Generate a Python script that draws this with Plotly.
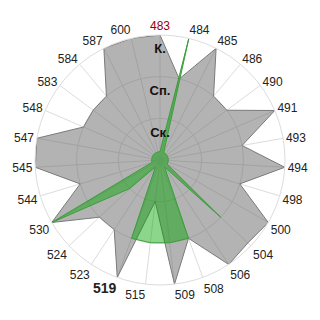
import plotly.graph_objects as go

categories = ["483", "484", "485", "486", "490", "491", "493", "494", "498", "500",
              "504", "506", "508", "509", "515", "519", "523", "524", "530", "544",
              "545", "547", "548", "583", "584", "587", "600"]

tick_labels = ['<span style="color:#990000">483</span>'] + categories[1:15] + \
              ['<span style="font-size:14px"><b>519</b></span>'] + categories[16:]

gray_values = [3, 2, 3, 2, 2, 3, 2, 3, 2, 3,
               2.9, 3, 2, 3, 1, 3, 2, 2, 3, 2,
               3, 3, 2, 2, 2, 3, 3]

green_values = [0.2, 3, 0.2, 0.2, 0.2, 0.2, 0.2, 0.2, 0.2, 0.2,
                2, 0.2, 2, 2, 2, 2, 0.2, 1, 3, 0.2,
                0.2, 0.2, 0.2, 0.2, 0.2, 0.2, 0.2]

level_values = [1, 2, 3]
level_labels = ["Ск.", "Сп.", "К."]


def closed(seq):
    return list(seq) + [seq[0]]


fig = go.Figure()
fig.add_trace(go.Scatterpolar(
    r=closed(gray_values), theta=closed(categories), mode="lines",
    fill="toself", fillcolor="rgba(110,110,110,0.52)",
    line=dict(color="#7a7a7a", width=1), hoverinfo="skip"))
fig.add_trace(go.Scatterpolar(
    r=closed(green_values), theta=closed(categories), mode="lines",
    fill="toself", fillcolor="rgba(0,165,0,0.45)",
    line=dict(color="#3a9e3a", width=1), hoverinfo="skip"))
fig.add_trace(go.Scatterpolar(
    r=level_values, theta=[categories[0]] * 3, mode="markers+text",
    marker=dict(size=12, color="rgba(0,0,0,0)"),
    text=["<b>%s</b>" % t for t in level_labels], textposition="bottom center",
    textfont=dict(family="Liberation Sans, Arial, sans-serif", size=13, color="#111"),
    hoverinfo="skip"))

fig.update_layout(
    width=320, height=320,
    margin=dict(l=35, r=35, t=35, b=35),
    paper_bgcolor="white", plot_bgcolor="white",
    showlegend=False,
    font=dict(family="Liberation Sans, Arial, sans-serif", size=12, color="#222"),
    polar=dict(
        bgcolor="white",
        domain=dict(x=[0, 1], y=[0, 1]),
        radialaxis=dict(range=[0, 3], tickvals=[1, 2, 3], showticklabels=False,
                        ticks="", showline=False, gridcolor="#dcdcdc", gridwidth=1),
        angularaxis=dict(type="category", categoryarray=categories,
                         tickvals=categories, ticktext=tick_labels,
                         direction="clockwise", rotation=90, ticks="",
                         gridcolor="#dcdcdc", linecolor="#dcdcdc", showline=True,
                         tickfont=dict(size=12, color="#222")),
    ),
)

fig.write_html("out.html")
